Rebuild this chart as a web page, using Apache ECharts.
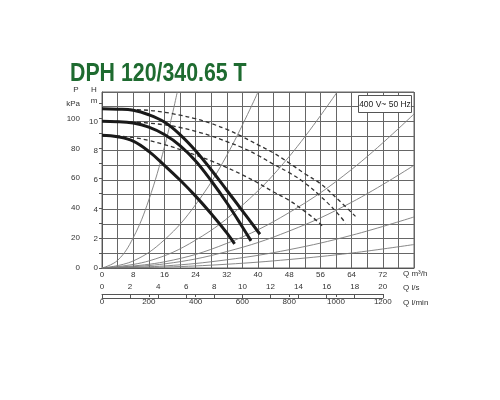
<!DOCTYPE html>
<html>
<head>
<meta charset="utf-8">
<script src="https://cdn.jsdelivr.net/npm/echarts@6/dist/echarts.min.js"></script>
<style>
html,body{margin:0;padding:0;background:#fff;}
#c{width:500px;height:400px;}
</style>
</head>
<body>
<div id="c"></div>
<script>
// Pump curves: Q in m³/h, H in m
const solidHighQ = [0, 4, 8, 12, 16, 20, 24, 28, 32, 36, 40.5];
const solidHighH = [10.85, 10.83, 10.75, 10.45, 9.95, 9.1, 8.0, 6.7, 5.3, 3.9, 2.3];
const solidMidQ = [0, 4, 8, 12, 16, 20, 24, 28, 32, 36, 38.2];
const solidMidH = [10.0, 9.98, 9.88, 9.6, 9.1, 8.35, 7.3, 5.95, 4.45, 2.8, 1.85];
const solidLowQ = [0, 4, 8, 12, 16, 20, 24, 28, 32, 34];
const solidLowH = [9.05, 8.95, 8.65, 7.95, 7.0, 6.0, 4.9, 3.7, 2.4, 1.65];

const dashHighQ = [0, 4, 8, 12, 16, 20, 24, 28, 32, 36, 40, 44, 48, 52, 56, 60, 65];
const dashHighH = [10.85, 10.84, 10.8, 10.75, 10.62, 10.42, 10.18, 9.85, 9.45, 8.95, 8.4, 7.84, 7.16, 6.43, 5.75, 4.8, 3.52];
const dashMidQ = [0, 4, 8, 12, 16, 20, 24, 28, 32, 36, 40, 44, 48, 52, 56, 60, 62.5];
const dashMidH = [10.0, 9.99, 9.95, 9.88, 9.76, 9.58, 9.32, 9.0, 8.62, 8.2, 7.68, 7.07, 6.5, 5.8, 4.9, 3.85, 3.05];
const dashLowQ = [0, 4, 8, 12, 16, 20, 24, 28, 32, 36, 40, 44, 48, 52, 56, 56.8];
const dashLowH = [9.05, 9.0, 8.9, 8.7, 8.42, 8.08, 7.7, 7.3, 6.85, 6.35, 5.8, 5.18, 4.61, 3.86, 3.0, 2.7];

// System (resistance) curves
const sys1Q = [0, 4, 8, 12, 16, 19.3];
const sys1H = [0, 0.52, 2.06, 4.64, 8.24, 12];
const sys2Q = [0, 8, 16, 24, 32, 40];
const sys2H = [0, 0.48, 1.92, 4.32, 7.68, 12];
const sys3Q = [0, 12, 24, 36, 48, 60.3];
const sys3H = [0, 0.48, 1.9, 4.28, 7.6, 12];
const sys4Q = [0, 16, 32, 48, 64, 80];
const sys4H = [0, 0.42, 1.68, 3.78, 6.72, 10.5];
const sys5Q = [0, 16, 32, 48, 64, 80];
const sys5H = [0, 0.28, 1.12, 2.52, 4.48, 7.0];
const sys6Q = [0, 16, 32, 48, 64, 80];
const sys6H = [0, 0.14, 0.56, 1.25, 2.23, 3.48];
const sys7Q = [0, 16, 32, 48, 64, 80];
const sys7H = [0, 0.064, 0.256, 0.58, 1.02, 1.6];

// Axis ranges / tick steps
const qMax = 80, qStep = 4, qLabelStep = 8, qLabelMax = 72;
const hMax = 12, hStep = 1, hLabelStep = 2, hLabelMax = 10;
const lsMax = 20, lsStep = 2;
const lminMax = 1200, lminStep = 200;
const pMax = 110, pStep = 10, pLabelStep = 20, pLabelMax = 100;

const titleText = 'DPH 120/340.65 T';
const boxText = '400 V~ 50 Hz';

function zip(a, b) { return a.map((v, i) => [v, b[i]]); }

const FONT = 'Liberation Sans, Arial, sans-serif';
const lblStyle = { fontSize: 8, color: '#333', fontFamily: FONT };

const chart = echarts.init(document.getElementById('c'), null, { renderer: 'canvas' });

function mk(q, h, ls, z) {
  return { type: 'line', xAxisIndex: 0, yAxisIndex: 0, data: zip(q, h), smooth: 0.4,
    showSymbol: false, silent: true, lineStyle: ls, z: z };
}

const plotLeft = 102, plotTop = 92, plotW = 312, plotH = 176;
const pxPerQ = plotW / qMax;
const pxPerKPa = plotH / hMax / 9.81;
const sysStyle = { color: '#7a7a7a', width: 0.9 };
const dashStyle = { color: '#333', width: 1.3, type: [4, 3] };
const solidStyle = { color: '#1a1a1a', width: 3 };

const option = {
  animation: false,
  backgroundColor: '#fff',
  grid: [
    { left: plotLeft, top: plotTop, width: plotW, height: plotH, show: true, borderColor: '#666', borderWidth: 1 },
    { left: plotLeft, top: 294, width: pxPerQ * 72, height: 4 },
    { left: plotLeft, top: 290, width: pxPerQ * 72, height: 4 },
    { left: plotLeft, top: plotTop + plotH - pMax * pxPerKPa, width: plotW, height: pMax * pxPerKPa }
  ],
  xAxis: [
    { gridIndex: 0, type: 'value', min: 0, max: qMax, interval: qStep,
      axisLine: { show: true, lineStyle: { color: '#555' } }, axisTick: { show: false },
      axisLabel: Object.assign({ margin: 3,
        formatter: v => (v % qLabelStep === 0 && v <= qLabelMax) ? String(v) : '' }, lblStyle),
      splitLine: { show: true, lineStyle: { color: '#666', width: 1 } } },
    { gridIndex: 1, type: 'value', position: 'top', min: 0, max: lsMax, interval: lsStep,
      axisLine: { show: true, lineStyle: { color: '#555' } },
      axisTick: { show: true, length: 3, lineStyle: { color: '#555' } },
      axisLabel: Object.assign({ margin: 3, formatter: v => String(v) }, lblStyle), splitLine: { show: false } },
    { gridIndex: 2, type: 'value', position: 'bottom', min: 0, max: lminMax, interval: lminStep,
      axisLine: { show: true, lineStyle: { color: '#555' } },
      axisTick: { show: true, length: 3, lineStyle: { color: '#555' } },
      axisLabel: Object.assign({ margin: 4, formatter: v => String(v) }, lblStyle), splitLine: { show: false } },
    { gridIndex: 3, type: 'value', min: 0, max: qMax, show: false }
  ],
  yAxis: [
    { gridIndex: 0, type: 'value', min: 0, max: hMax, interval: hStep,
      axisLine: { show: true, lineStyle: { color: '#555' } }, axisTick: { show: false },
      axisLabel: Object.assign({ margin: 4,
        formatter: v => (v % hLabelStep === 0 && v <= hLabelMax) ? String(v) : '' }, lblStyle),
      splitLine: { show: true, lineStyle: { color: '#666', width: 1 } } },
    { gridIndex: 1, type: 'value', min: 0, max: 1, show: false },
    { gridIndex: 2, type: 'value', min: 0, max: 1, show: false },
    { gridIndex: 3, type: 'value', position: 'left', offset: 17, min: 0, max: pMax, interval: pStep,
      axisLine: { show: true, lineStyle: { color: '#555' } },
      axisTick: { show: true, length: 3, lineStyle: { color: '#555' } },
      axisLabel: Object.assign({ margin: 5,
        formatter: v => v === pMax ? 'kPa' : ((v % pLabelStep === 0 && v <= pLabelMax) ? String(v) : '') }, lblStyle),
      splitLine: { show: false } }
  ],
  series: [
    mk(sys1Q, sys1H, sysStyle, 2), mk(sys2Q, sys2H, sysStyle, 2), mk(sys3Q, sys3H, sysStyle, 2),
    mk(sys4Q, sys4H, sysStyle, 2), mk(sys5Q, sys5H, sysStyle, 2), mk(sys6Q, sys6H, sysStyle, 2),
    mk(sys7Q, sys7H, sysStyle, 2),
    mk(dashHighQ, dashHighH, dashStyle, 3), mk(dashMidQ, dashMidH, dashStyle, 3), mk(dashLowQ, dashLowH, dashStyle, 3),
    mk(solidHighQ, solidHighH, solidStyle, 4), mk(solidMidQ, solidMidH, solidStyle, 4), mk(solidLowQ, solidLowH, solidStyle, 4)
  ],
  graphic: [
    { type: 'text', x: 70, y: 74, scaleX: 0.82, z: 10,
      style: { text: titleText, font: 'bold 26px ' + FONT, fill: '#1e6b30', align: 'left', verticalAlign: 'middle' } },
    { type: 'text', x: 76, y: 90, z: 10,
      style: { text: 'P', font: '8px ' + FONT, fill: '#333', align: 'center', verticalAlign: 'middle' } },
    { type: 'text', x: 94, y: 90, z: 10,
      style: { text: 'H', font: '8px ' + FONT, fill: '#333', align: 'center', verticalAlign: 'middle' } },
    { type: 'text', x: 94, y: 101, z: 10,
      style: { text: 'm', font: '8px ' + FONT, fill: '#333', align: 'center', verticalAlign: 'middle' } },
    { type: 'rect', z: 10, shape: { x: 358.5, y: 95.5, width: 53, height: 17 },
      style: { fill: '#fff', stroke: '#555', lineWidth: 1 } },
    { type: 'text', x: 385, y: 104.5, z: 11,
      style: { text: boxText, font: '8.5px ' + FONT, fill: '#222', align: 'center', verticalAlign: 'middle' } },
    { type: 'text', x: 403, y: 274, z: 10,
      style: { text: 'Q m³/h', font: '8px ' + FONT, fill: '#333', align: 'left', verticalAlign: 'middle' } },
    { type: 'text', x: 403, y: 288, z: 10,
      style: { text: 'Q l/s', font: '8px ' + FONT, fill: '#333', align: 'left', verticalAlign: 'middle' } },
    { type: 'text', x: 403, y: 302.5, z: 10,
      style: { text: 'Q l/min', font: '8px ' + FONT, fill: '#333', align: 'left', verticalAlign: 'middle' } }
  ]
};
chart.setOption(option);
</script>
</body>
</html>
